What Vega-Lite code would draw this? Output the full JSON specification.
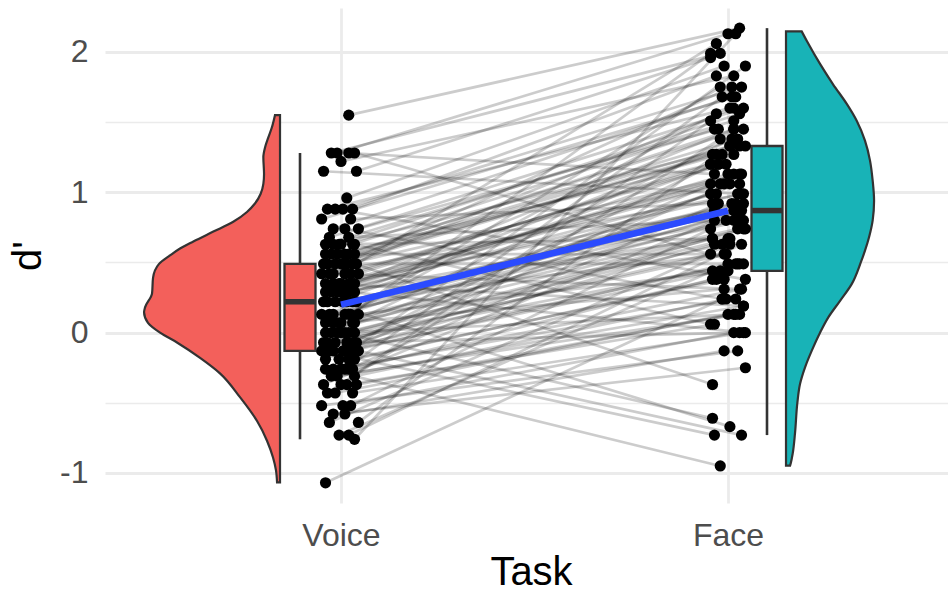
{
  "$schema": "https://vega.github.io/schema/vega-lite/v6.json",
  "width": 843,
  "height": 495,
  "autosize": {"type": "none"},
  "padding": {"left": 105, "top": 8, "right": 0, "bottom": 90},
  "background": "white",
  "config": {
    "view": {"stroke": null},
    "axis": {"labelFont": "Liberation Sans", "titleFont": "Liberation Sans"}
  },
  "datasets": {
    "viol": [
      {"t": "Voice", "d": 1.55, "dens": 0.036}, {"t": "Voice", "d": 1.46, "dens": 0.059}, {"t": "Voice", "d": 1.39, "dens": 0.084},
      {"t": "Voice", "d": 1.32, "dens": 0.107}, {"t": "Voice", "d": 1.25, "dens": 0.119}, {"t": "Voice", "d": 1.13, "dens": 0.114},
      {"t": "Voice", "d": 1.06, "dens": 0.119}, {"t": "Voice", "d": 0.99, "dens": 0.138}, {"t": "Voice", "d": 0.92, "dens": 0.179},
      {"t": "Voice", "d": 0.86, "dens": 0.236}, {"t": "Voice", "d": 0.79, "dens": 0.334}, {"t": "Voice", "d": 0.72, "dens": 0.476},
      {"t": "Voice", "d": 0.65, "dens": 0.619}, {"t": "Voice", "d": 0.60, "dens": 0.714}, {"t": "Voice", "d": 0.55, "dens": 0.786},
      {"t": "Voice", "d": 0.49, "dens": 0.864}, {"t": "Voice", "d": 0.39, "dens": 0.907}, {"t": "Voice", "d": 0.28, "dens": 0.914},
      {"t": "Voice", "d": 0.18, "dens": 0.964}, {"t": "Voice", "d": 0.145, "dens": 0.971}, {"t": "Voice", "d": 0.07, "dens": 0.943},
      {"t": "Voice", "d": 0.0, "dens": 0.857}, {"t": "Voice", "d": -0.07, "dens": 0.736}, {"t": "Voice", "d": -0.18, "dens": 0.571},
      {"t": "Voice", "d": -0.29, "dens": 0.429}, {"t": "Voice", "d": -0.46, "dens": 0.286}, {"t": "Voice", "d": -0.63, "dens": 0.164},
      {"t": "Voice", "d": -0.77, "dens": 0.093}, {"t": "Voice", "d": -0.89, "dens": 0.05}, {"t": "Voice", "d": -0.98, "dens": 0.029},
      {"t": "Voice", "d": -1.067, "dens": 0.021},
      {"t": "Face", "d": 2.147, "dens": 0.112}, {"t": "Face", "d": 2.08, "dens": 0.148}, {"t": "Face", "d": 1.915, "dens": 0.243},
      {"t": "Face", "d": 1.77, "dens": 0.336}, {"t": "Face", "d": 1.63, "dens": 0.434}, {"t": "Face", "d": 1.51, "dens": 0.505},
      {"t": "Face", "d": 1.368, "dens": 0.564}, {"t": "Face", "d": 1.226, "dens": 0.6}, {"t": "Face", "d": 1.083, "dens": 0.619},
      {"t": "Face", "d": 0.94, "dens": 0.629}, {"t": "Face", "d": 0.80, "dens": 0.619}, {"t": "Face", "d": 0.68, "dens": 0.593},
      {"t": "Face", "d": 0.584, "dens": 0.564}, {"t": "Face", "d": 0.50, "dens": 0.534}, {"t": "Face", "d": 0.346, "dens": 0.469},
      {"t": "Face", "d": 0.227, "dens": 0.386}, {"t": "Face", "d": 0.109, "dens": 0.302}, {"t": "Face", "d": 0.0, "dens": 0.243},
      {"t": "Face", "d": -0.128, "dens": 0.184}, {"t": "Face", "d": -0.247, "dens": 0.136}, {"t": "Face", "d": -0.366, "dens": 0.1},
      {"t": "Face", "d": -0.50, "dens": 0.081}, {"t": "Face", "d": -0.72, "dens": 0.064}, {"t": "Face", "d": -0.86, "dens": 0.048},
      {"t": "Face", "d": -0.93, "dens": 0.034}, {"t": "Face", "d": -0.948, "dens": 0.029}
    ],
    "subj": [
      {"v":1.55,"f":2.17,"vx":1.02,"fx":2.03},{"v":1.28,"f":1.13,"vx":1.02,"fx":1.965},{"v":1.28,"f":2.13,"vx":0.99,"fx":2.0},
      {"v":1.28,"f":0.49,"vx":1.035,"fx":2.04},{"v":1.28,"f":1.99,"vx":0.975,"fx":1.98},{"v":1.22,"f":1.83,"vx":1.0,"fx":2.015},
      {"v":1.15,"f":1.96,"vx":1.04,"fx":1.955},{"v":1.15,"f":0.99,"vx":0.955,"fx":2.025},{"v":0.96,"f":1.90,"vx":1.015,"fx":1.99},
      {"v":0.88,"f":0.38,"vx":0.985,"fx":2.045},{"v":0.88,"f":1.83,"vx":1.03,"fx":1.97},{"v":0.88,"f":1.60,"vx":0.965,"fx":2.005},
      {"v":0.88,"f":1.75,"vx":1.005,"fx":2.035},{"v":0.81,"f":0.92,"vx":1.025,"fx":1.96},{"v":0.81,"f":1.68,"vx":0.95,"fx":2.02},
      {"v":0.74,"f":0.24,"vx":1.01,"fx":1.985},{"v":0.74,"f":1.68,"vx":0.98,"fx":2.01},{"v":0.74,"f":1.45,"vx":1.045,"fx":1.975},
      {"v":0.68,"f":1.60,"vx":0.97,"fx":2.04},{"v":0.68,"f":0.80,"vx":1.02,"fx":1.995},{"v":0.63,"f":1.56,"vx":0.995,"fx":2.03},
      {"v":0.63,"f":0.06,"vx":1.035,"fx":1.955},{"v":0.63,"f":1.51,"vx":0.96,"fx":2.015},{"v":0.63,"f":1.33,"vx":1.0,"fx":2.03},
      {"v":0.63,"f":1.45,"vx":1.03,"fx":1.965},{"v":0.63,"f":0.67,"vx":0.98,"fx":2.0},{"v":0.56,"f":1.45,"vx":1.01,"fx":2.04},
      {"v":0.56,"f":-0.37,"vx":0.96,"fx":1.96},{"v":0.56,"f":1.45,"vx":1.02,"fx":2.015},{"v":0.56,"f":1.20,"vx":0.99,"fx":1.955},
      {"v":0.56,"f":1.38,"vx":1.035,"fx":2.025},{"v":0.56,"f":0.56,"vx":0.975,"fx":1.99},{"v":0.49,"f":1.33,"vx":1.0,"fx":2.045},
      {"v":0.49,"f":2.06,"vx":1.04,"fx":1.97},{"v":0.49,"f":1.33,"vx":0.955,"fx":2.005},{"v":0.49,"f":1.13,"vx":1.015,"fx":2.035},
      {"v":0.49,"f":1.27,"vx":0.985,"fx":1.96},{"v":0.49,"f":0.49,"vx":1.03,"fx":2.02},{"v":0.49,"f":1.27,"vx":0.965,"fx":1.985},
      {"v":0.49,"f":1.75,"vx":1.005,"fx":2.01},{"v":0.42,"f":1.20,"vx":1.025,"fx":1.975},{"v":0.42,"f":0.99,"vx":0.95,"fx":2.04},
      {"v":0.42,"f":1.20,"vx":1.01,"fx":1.995},{"v":0.42,"f":0.31,"vx":0.98,"fx":2.03},{"v":0.42,"f":1.20,"vx":1.045,"fx":1.955},
      {"v":0.42,"f":1.60,"vx":0.97,"fx":2.015},{"v":0.35,"f":1.13,"vx":1.02,"fx":2.03},{"v":0.35,"f":0.87,"vx":0.995,"fx":1.965},
      {"v":0.35,"f":1.13,"vx":1.035,"fx":2.0},{"v":0.35,"f":0.19,"vx":0.96,"fx":2.04},{"v":0.35,"f":1.06,"vx":1.0,"fx":1.98},
      {"v":0.35,"f":1.45,"vx":1.03,"fx":2.015},{"v":0.35,"f":1.06,"vx":0.98,"fx":1.955},{"v":0.29,"f":0.80,"vx":1.01,"fx":2.025},
      {"v":0.29,"f":1.06,"vx":0.96,"fx":1.99},{"v":0.29,"f":0.00,"vx":1.02,"fx":2.045},{"v":0.29,"f":0.99,"vx":0.99,"fx":1.97},
      {"v":0.29,"f":1.33,"vx":1.035,"fx":2.005},{"v":0.29,"f":0.99,"vx":0.975,"fx":2.035},{"v":0.29,"f":0.67,"vx":1.0,"fx":1.96},
      {"v":0.22,"f":0.92,"vx":1.04,"fx":2.02},{"v":0.22,"f":-0.67,"vx":0.955,"fx":2.005},{"v":0.22,"f":0.92,"vx":1.015,"fx":2.01},
      {"v":0.22,"f":1.20,"vx":0.985,"fx":1.975},{"v":0.22,"f":0.92,"vx":1.03,"fx":2.04},{"v":0.22,"f":0.56,"vx":0.965,"fx":1.995},
      {"v":0.22,"f":0.87,"vx":1.005,"fx":2.03},{"v":0.13,"f":1.99,"vx":1.025,"fx":1.955},{"v":0.13,"f":0.87,"vx":0.95,"fx":2.015},
      {"v":0.13,"f":1.06,"vx":1.01,"fx":2.03},{"v":0.13,"f":0.80,"vx":0.98,"fx":1.965},{"v":0.13,"f":0.44,"vx":1.045,"fx":2.0},
      {"v":0.13,"f":0.80,"vx":0.97,"fx":2.04},{"v":0.13,"f":1.75,"vx":1.02,"fx":1.98},{"v":0.07,"f":0.80,"vx":0.995,"fx":2.015},
      {"v":0.07,"f":0.99,"vx":1.035,"fx":1.955},{"v":0.07,"f":0.74,"vx":0.96,"fx":2.025},{"v":0.07,"f":0.31,"vx":1.0,"fx":1.99},
      {"v":0.07,"f":0.74,"vx":1.03,"fx":2.045},{"v":0.07,"f":1.56,"vx":0.98,"fx":1.97},{"v":0.00,"f":0.67,"vx":1.01,"fx":2.005},
      {"v":0.00,"f":0.87,"vx":0.96,"fx":2.035},{"v":0.00,"f":0.67,"vx":1.02,"fx":1.96},{"v":0.00,"f":0.13,"vx":0.99,"fx":2.02},
      {"v":0.00,"f":0.63,"vx":1.035,"fx":1.985},{"v":0.00,"f":1.38,"vx":0.975,"fx":2.01},{"v":0.00,"f":-0.61,"vx":1.0,"fx":1.96},
      {"v":-0.07,"f":0.74,"vx":1.04,"fx":2.04},{"v":-0.07,"f":0.56,"vx":0.955,"fx":1.995},{"v":-0.07,"f":0.00,"vx":1.015,"fx":2.03},
      {"v":-0.07,"f":0.56,"vx":0.985,"fx":1.955},{"v":-0.07,"f":1.27,"vx":1.03,"fx":2.015},{"v":-0.07,"f":0.49,"vx":0.965,"fx":2.03},
      {"v":-0.13,"f":0.63,"vx":1.005,"fx":1.965},{"v":-0.13,"f":0.49,"vx":1.025,"fx":2.0},{"v":-0.13,"f":-0.73,"vx":0.95,"fx":1.965},
      {"v":-0.13,"f":0.44,"vx":1.01,"fx":1.98},{"v":-0.13,"f":1.13,"vx":0.98,"fx":2.015},{"v":-0.13,"f":-0.73,"vx":1.045,"fx":2.035},
      {"v":-0.13,"f":0.49,"vx":0.97,"fx":2.025},{"v":-0.19,"f":0.38,"vx":1.02,"fx":1.99},{"v":-0.19,"f":1.90,"vx":0.995,"fx":2.045},
      {"v":-0.19,"f":0.38,"vx":1.035,"fx":1.97},{"v":-0.19,"f":1.06,"vx":0.96,"fx":2.005},{"v":-0.26,"f":0.31,"vx":1.0,"fx":2.035},
      {"v":-0.26,"f":0.38,"vx":1.03,"fx":1.96},{"v":-0.26,"f":0.24,"vx":0.98,"fx":2.02},{"v":-0.26,"f":1.68,"vx":1.01,"fx":1.985},
      {"v":-0.26,"f":-0.95,"vx":0.96,"fx":1.98},{"v":-0.26,"f":0.92,"vx":1.02,"fx":1.975},{"v":-0.31,"f":0.19,"vx":0.99,"fx":2.04},
      {"v":-0.31,"f":0.24,"vx":1.035,"fx":1.995},{"v":-0.31,"f":0.13,"vx":0.975,"fx":2.03},{"v":-0.37,"f":1.51,"vx":1.0,"fx":1.955},
      {"v":-0.37,"f":0.13,"vx":1.04,"fx":2.015},{"v":-0.37,"f":0.87,"vx":0.955,"fx":2.03},{"v":-0.37,"f":0.06,"vx":1.015,"fx":1.965},
      {"v":-0.43,"f":0.13,"vx":0.985,"fx":2.0},{"v":-0.43,"f":0.00,"vx":1.03,"fx":2.04},{"v":-0.43,"f":1.38,"vx":0.965,"fx":1.98},
      {"v":-0.52,"f":0.00,"vx":1.005,"fx":2.015},{"v":-0.52,"f":0.74,"vx":1.025,"fx":1.955},{"v":-0.52,"f":-0.13,"vx":0.95,"fx":2.025},
      {"v":-0.58,"f":-0.13,"vx":1.01,"fx":1.99},{"v":-0.58,"f":-0.25,"vx":0.98,"fx":2.045},{"v":-0.64,"f":1.27,"vx":1.045,"fx":1.97},
      {"v":-0.64,"f":0.63,"vx":0.97,"fx":2.005},{"v":-0.73,"f":0.63,"vx":1.02,"fx":2.035},{"v":-0.73,"f":0.44,"vx":0.995,"fx":1.96},
      {"v":-0.76,"f":2.13,"vx":1.035,"fx":2.02},{"v":-1.07,"f":0.24,"vx":0.96,"fx":1.985}
    ]
  },
  "layer": [
    {
      "data": {"name": "viol"},
      "transform": [{"filter": "datum.t === 'Voice'"}],
      "mark": {"type": "area", "orient": "horizontal", "interpolate": "monotone", "fill": "#F3605B", "stroke": "#333333", "strokeWidth": 2.2},
      "encoding": {
        "y": {"field": "d", "type": "quantitative", "title": "d'", "scale": {"domain": [-1.214, 2.3135], "nice": false, "zero": false}},
        "x": {"field": "dens", "type": "quantitative", "stack": null, "scale": {"domain": [-4.771, 1.25], "reverse": true, "nice": false, "zero": false}, "axis": null}
      }
    },
    {
      "data": {"name": "viol"},
      "transform": [{"filter": "datum.t === 'Face'"}],
      "mark": {"type": "area", "orient": "horizontal", "interpolate": "monotone", "fill": "#18B3B7", "stroke": "#333333", "strokeWidth": 2.2},
      "encoding": {
        "y": {"field": "d", "type": "quantitative", "title": "d'", "scale": {"domain": [-1.214, 2.3135], "nice": false, "zero": false}},
        "x": {"field": "dens", "type": "quantitative", "stack": null, "scale": {"domain": [-4.864, 1.157], "nice": false, "zero": false}, "axis": null}
      }
    },
    {
      "data": {"name": "subj"},
      "transform": [{"fold": ["v", "f"], "as": ["task", "val"]}],
      "layer": [
        {
          "transform": [{"filter": "datum.task === 'v'"}],
          "mark": {"type": "boxplot", "extent": 1.5, "size": 31, "outliers": false,
            "box": {"fill": "#F3605B", "stroke": "#333333", "strokeWidth": 2.3, "opacity": 1},
            "median": {"color": "#333333", "thickness": 5.5, "opacity": 1},
            "rule": {"color": "#333333", "strokeWidth": 2.6, "opacity": 1}},
          "encoding": {
            "x": {"field": "task", "type": "nominal", "scale": {"type": "point", "domain": ["v", "f"], "range": [195, 662], "padding": 0}, "axis": null},
            "y": {"field": "val", "type": "quantitative", "title": "d'", "scale": {"domain": [-1.214, 2.3135], "nice": false, "zero": false}}
          }
        },
        {
          "transform": [{"filter": "datum.task === 'f'"}],
          "mark": {"type": "boxplot", "extent": 1.5, "size": 31, "outliers": false,
            "box": {"fill": "#18B3B7", "stroke": "#333333", "strokeWidth": 2.3, "opacity": 1},
            "median": {"color": "#333333", "thickness": 5.5, "opacity": 1},
            "rule": {"color": "#333333", "strokeWidth": 2.6, "opacity": 1}},
          "encoding": {
            "x": {"field": "task", "type": "nominal", "scale": {"type": "point", "domain": ["v", "f"], "range": [195, 662], "padding": 0}, "axis": null},
            "y": {"field": "val", "type": "quantitative", "title": "d'", "scale": {"domain": [-1.214, 2.3135], "nice": false, "zero": false}}
          }
        }
      ]
    },
    {
      "data": {"name": "subj"},
      "layer": [
        {
          "mark": {"type": "rule", "color": "black", "opacity": 0.2, "strokeWidth": 2.7},
          "encoding": {
            "x": {"field": "vx", "type": "quantitative", "title": "Task",
              "scale": {"domain": [0.3902, 2.5685], "nice": false, "zero": false},
              "axis": {"values": [1, 2], "labelExpr": "datum.value === 1 ? 'Voice' : 'Face'",
                "grid": true, "gridColor": "#EBEBEB", "gridWidth": 2.8, "ticks": false, "tickSize": 0, "domain": false,
                "labelFontSize": 32, "labelColor": "#4D4D4D", "labelPadding": 42, "labelBaseline": "alphabetic", "labelFlush": false,
                "titleFontSize": 40, "titleFontWeight": "normal", "titleColor": "black",
                "titleBaseline": "alphabetic", "titleX": 426, "titleY": 81}},
            "x2": {"field": "fx"},
            "y": {"field": "v", "type": "quantitative", "title": "d'",
              "scale": {"domain": [-1.214, 2.3135], "nice": false, "zero": false},
              "axis": {"values": [-1, -0.5, 0, 0.5, 1, 1.5, 2],
                "labelExpr": "datum.value % 1 === 0 ? '' + datum.value : ''",
                "grid": true, "gridColor": "#EBEBEB",
                "gridWidth": {"condition": {"test": "datum.value % 1 === 0", "value": 2.8}, "value": 1.4},
                "ticks": false, "tickSize": 0, "domain": false,
                "labelFontSize": 32, "labelColor": "#4D4D4D", "labelPadding": 17, "labelFlush": false,
                "titleFontSize": 40, "titleFontWeight": "normal", "titleColor": "black",
                "titleBaseline": "alphabetic", "titleAngle": -90, "titleAlign": "center", "titleX": -65, "titleY": 247.5}},
            "y2": {"field": "f"}
          }
        },
        {
          "mark": {"type": "circle", "color": "black", "opacity": 1, "size": 125},
          "encoding": {
            "x": {"field": "vx", "type": "quantitative", "title": "Task"},
            "y": {"field": "v", "type": "quantitative", "title": "d'"}
          }
        },
        {
          "mark": {"type": "circle", "color": "black", "opacity": 1, "size": 125},
          "encoding": {
            "x": {"field": "fx", "type": "quantitative", "title": "Task"},
            "y": {"field": "f", "type": "quantitative", "title": "d'"}
          }
        }
      ]
    },
    {
      "data": {"name": "subj"},
      "transform": [{"fold": ["v", "f"], "as": ["task", "val"]}],
      "mark": {"type": "line", "color": "#2B4BFF", "strokeWidth": 6.5},
      "encoding": {
        "x": {"field": "task", "type": "nominal", "sort": null, "scale": {"type": "point", "domain": ["v", "f"], "range": [236, 623], "padding": 0}, "axis": null},
        "y": {"aggregate": "mean", "field": "val", "type": "quantitative", "title": "d'", "scale": {"domain": [-1.214, 2.3135], "nice": false, "zero": false}}
      }
    }
  ],
  "resolve": {"scale": {"x": "independent"}}
}
